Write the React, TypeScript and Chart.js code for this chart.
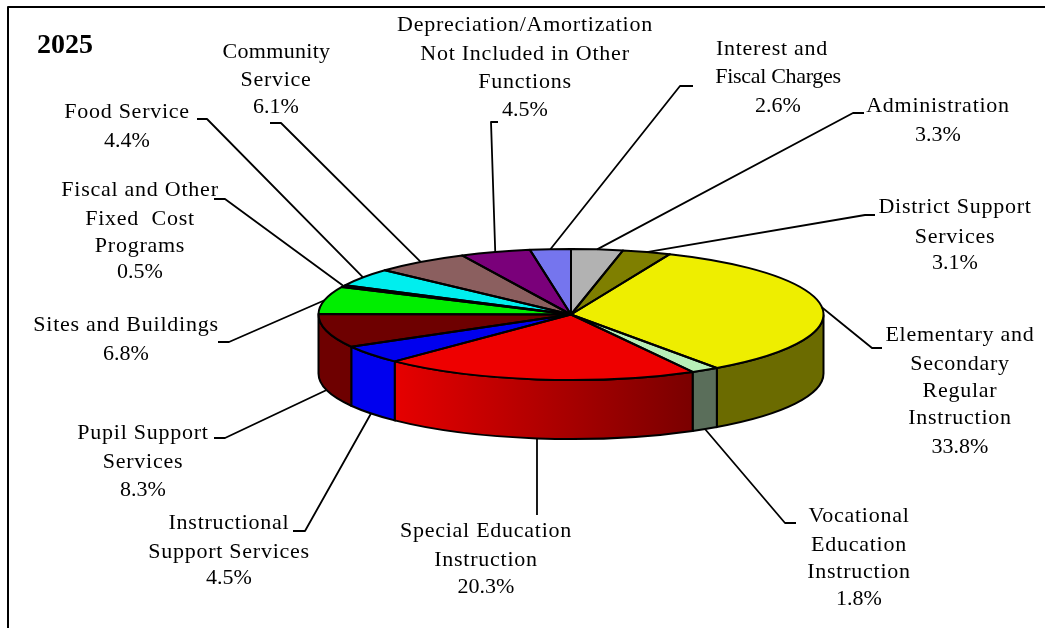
import React, { useEffect, useRef } from "react";
import { Chart, registerables } from "chart.js";

Chart.register(...registerables);

const categories = [
  "Administration",
  "District Support Services",
  "Elementary and Secondary Regular Instruction",
  "Vocational Education Instruction",
  "Special Education Instruction",
  "Instructional Support Services",
  "Pupil Support Services",
  "Sites and Buildings",
  "Fiscal and Other Fixed Cost Programs",
  "Food Service",
  "Community Service",
  "Depreciation/Amortization Not Included in Other Functions",
  "Interest and Fiscal Charges",
];
const shares = [3.3, 3.1, 33.8, 1.8, 20.3, 4.5, 8.3, 6.8, 0.5, 4.4, 6.1, 4.5, 2.6];
const topColors = [
  "#b2b2b2", "#7f7f00", "#eeee00", "#b8efb8", "#ee0000", "#0000ee", "#6e0000",
  "#00ee00", "#000080", "#00eeee", "#8b5f5f", "#7a007a", "#7575ee",
];
const wallNear = [
  "#b2b2b2", "#7f7f00", "#6b6b00", "#5a6e5a", "#7a0000", "#0000ee", "#6e0000",
  "#00ee00", "#000080", "#00eeee", "#8b5f5f", "#7a007a", "#7575ee",
];
const wallFar = [
  "#b2b2b2", "#7f7f00", "#6b6b00", "#5a6e5a", "#e60000", "#0000ee", "#6e0000",
  "#00ee00", "#000080", "#00eeee", "#8b5f5f", "#7a007a", "#7575ee",
];
const labelLines = [
  ["Administration", "3.3%"],
  ["District Support", "Services", "3.1%"],
  ["Elementary and", "Secondary", "Regular", "Instruction", "33.8%"],
  ["Vocational", "Education", "Instruction", "1.8%"],
  ["Special Education", "Instruction", "20.3%"],
  ["Instructional", "Support Services", "4.5%"],
  ["Pupil Support", "Services", "8.3%"],
  ["Sites and Buildings", "6.8%"],
  ["Fiscal and Other", "Fixed  Cost", "Programs", "0.5%"],
  ["Food Service", "4.4%"],
  ["Community", "Service", "6.1%"],
  ["Depreciation/Amortization", "Not Included in Other", "Functions", "4.5%"],
  ["Interest and", "Fiscal Charges", "2.6%"],
];
const yearLabel = "2025";

// Centre x and the baseline of each label line.
const labelCentreX = [938, 955, 960, 859, 486, 229, 143, 126, 140, 127, 276, 525, 778];
const labelBaselines = [
  [112, 141],
  [213, 243, 269],
  [341, 370, 397, 424, 453],
  [522, 551, 578, 605],
  [537, 566, 593],
  [529, 558, 584],
  [439, 468, 496],
  [331, 360],
  [196, 225, 252, 278],
  [118, 147],
  [58, 86, 113],
  [31, 60, 88, 116],
  [55, 83, 112],
];
// Individual lines that are set tighter or sit off their label's centre.
const lineAdjust: Record<string, { tracking: number; dx: number }> = {
  Community: { tracking: 0.3, dx: 0.5 },
  "Interest and": { tracking: 0.75, dx: -6 },
  "Fiscal Charges": { tracking: -0.3, dx: 0 },
};
// Leader polyline points running from the label towards the pie rim.
const leaderPoints = [
  [[864, 113], [853, 113]],
  [[875, 215], [865, 215]],
  [[882, 348], [872, 348]],
  [[796, 523], [785, 523]],
  [[537, 515]],
  [[293, 531], [305, 531]],
  [[214, 438], [225, 438]],
  [[218, 342], [229, 342]],
  [[214, 199], [225, 199]],
  [[197, 119], [207, 119]],
  [[270, 123], [281, 123]],
  [[498, 122], [491, 122]],
  [[693, 86], [680, 86]],
];

const SQUASH = 65.5 / 252.5;
const DEPTH = 59;
const TEXT_FONT = '22px "Liberation Serif", "Times New Roman", serif';

const pie3d = {
  id: "pie3d",
  beforeDatasetsDraw(chart: any) {
    const { ctx } = chart;
    const arcs = chart.getDatasetMeta(0).data;
    const { x: cx, y: cy, outerRadius: R } = arcs[0].getProps(["x", "y", "outerRadius"], true);
    const ry = R * SQUASH;

    // Visible outer wall of each slice on the lower half of the rim.
    ctx.save();
    ctx.strokeStyle = "#000";
    ctx.lineWidth = 2;
    arcs.forEach((arc: any, i: number) => {
      const { startAngle, endAngle } = arc.getProps(["startAngle", "endAngle"], true);
      const lo = Math.max(startAngle, 0);
      const hi = Math.min(endAngle, Math.PI);
      if (hi <= lo) return;
      const g = ctx.createLinearGradient(cx + R * Math.cos(lo), 0, cx + R * Math.cos(hi), 0);
      g.addColorStop(0, wallNear[i]);
      g.addColorStop(1, wallFar[i]);
      ctx.beginPath();
      ctx.ellipse(cx, cy, R, ry, 0, lo, hi);
      ctx.ellipse(cx, cy + DEPTH, R, ry, 0, hi, lo, true);
      ctx.closePath();
      ctx.fillStyle = g;
      ctx.fill();
      ctx.stroke();
    });
    ctx.restore();

    // Flatten the pie that Chart.js is about to paint into an ellipse.
    ctx.save();
    ctx.translate(cx, cy);
    ctx.scale(1, SQUASH);
    ctx.translate(-cx, -cy);
  },
  afterDatasetsDraw(chart: any) {
    const { ctx } = chart;
    ctx.restore();
    const arcs = chart.getDatasetMeta(0).data;
    const { x: cx, y: cy, outerRadius: R } = arcs[0].getProps(["x", "y", "outerRadius"], true);
    const ry = R * SQUASH;

    // Slice outlines keep an even weight when stroked outside the flattened space.
    ctx.save();
    ctx.strokeStyle = "#000";
    ctx.lineJoin = "round";
    arcs.forEach((arc: any) => {
      const { startAngle, endAngle } = arc.getProps(["startAngle", "endAngle"], true);
      ctx.beginPath();
      ctx.moveTo(cx, cy);
      ctx.ellipse(cx, cy, R, ry, 0, startAngle, endAngle);
      ctx.closePath();
      ctx.lineWidth = 2;
      ctx.stroke();
    });

    // Leaders end at the middle of each slice's rim.
    ctx.lineWidth = 1.8;
    arcs.forEach((arc: any, i: number) => {
      const { startAngle, endAngle } = arc.getProps(["startAngle", "endAngle"], true);
      const mid = (startAngle + endAngle) / 2;
      const lower = Math.sin(mid) > 0.2;
      const ex = cx + R * Math.cos(mid);
      const ey = cy + ry * Math.sin(mid) + (lower ? DEPTH : 0);
      ctx.beginPath();
      leaderPoints[i].forEach(([px, py], k) => (k ? ctx.lineTo(px, py) : ctx.moveTo(px, py)));
      ctx.lineTo(ex, ey);
      ctx.stroke();
    });

    // Labels, year and frame. Word lines are set slightly looser than the percentages.
    ctx.fillStyle = "#000";
    ctx.textAlign = "center";
    ctx.textBaseline = "alphabetic";
    ctx.font = TEXT_FONT;
    labelLines.forEach((lines, i) => {
      lines.forEach((line, k) => {
        const adjust = lineAdjust[line];
        const tracking = line.endsWith("%") ? 0 : adjust ? adjust.tracking : 0.75;
        ctx.letterSpacing = `${tracking}px`;
        ctx.fillText(line, labelCentreX[i] + (adjust ? adjust.dx : 0), labelBaselines[i][k]);
      });
    });
    ctx.letterSpacing = "0px";
    ctx.textAlign = "left";
    ctx.font = 'bold 28px "Liberation Serif", "Times New Roman", serif';
    ctx.fillText(yearLabel, 37, 53);

    ctx.lineWidth = 2;
    ctx.beginPath();
    ctx.moveTo(8, 628);
    ctx.lineTo(8, 7);
    ctx.lineTo(1045, 7);
    ctx.stroke();
    ctx.restore();
  },
};

export default function App() {
  const ref = useRef<HTMLCanvasElement>(null);
  useEffect(() => {
    const chart = new Chart(ref.current!, {
      type: "pie",
      data: {
        labels: categories,
        datasets: [
          {
            data: shares,
            backgroundColor: topColors,
            borderWidth: 0,
            clip: false,
          } as any,
        ],
      },
      options: {
        responsive: false,
        animation: false,
        radius: 252.5,
        layout: { padding: { left: 97, top: 1 } },
        plugins: { legend: { display: false }, tooltip: { enabled: false } },
      } as any,
      plugins: [pie3d],
    });
    return () => chart.destroy();
  }, []);
  return (
    <div style={{ position: "fixed", left: 0, top: 0, width: 1045, height: 628, background: "#fff" }}>
      <canvas ref={ref} width={1045} height={628} style={{ display: "block" }} />
    </div>
  );
}
